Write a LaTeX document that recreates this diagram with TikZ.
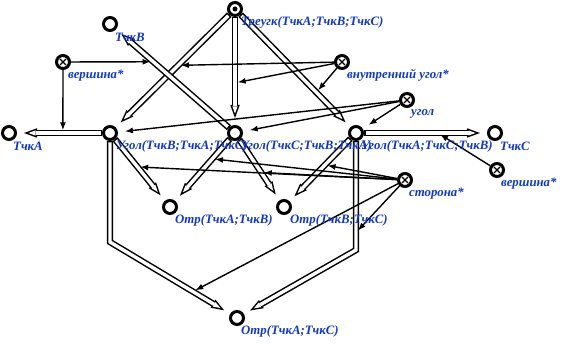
\documentclass[tikz,border=0pt]{standalone}
\usepackage{fontspec}
\setmainfont{Liberation Serif}
\usetikzlibrary{arrows.meta, positioning}
\definecolor{lblblue}{RGB}{16,56,196}

\begin{document}
\begin{tikzpicture}[x=1pt, y=-1pt,
        vtx/.style={circle, draw=black, line width=3pt, minimum size=13pt, inner sep=0pt},
        vtxd/.style={vtx, path picture={\fill (path picture bounding box.center) circle (2.5pt);}},
        vtxx/.style={vtx, path picture={
            \draw[line width=1.4pt]
              ([shift={(-3pt,-3pt)}]path picture bounding box.center) -- ([shift={(3pt,3pt)}]path picture bounding box.center)
              ([shift={(-3pt,3pt)}]path picture bounding box.center) -- ([shift={(3pt,-3pt)}]path picture bounding box.center);}},
        lbl/.style={anchor=west, inner sep=0pt, text=lblblue, font=\bfseries\itshape\fontsize{12.8}{14}\selectfont},
        dbl/.style={draw=black, line width=6.4pt, shorten >=7pt,
                    -{Triangle[length=13pt, width=9.5pt, line width=0pt]},
                    postaction={draw=white, line width=3.4pt, shorten <=1.5pt, shorten >=11.4pt,
                                -{Triangle[length=7.1pt, width=5.2pt, line width=0pt]}}},
        arr/.style={draw=black, line width=1.4pt, shorten >=2.7pt, -{Latex[length=8pt, width=6pt]}}
    ]
    \useasboundingbox (0,0) rectangle (563,344);

    % points
    \node[vtxd] (tri) at (235,9) {};
    \node[vtx] (B) at (110,24) {};
    \node[vtxx] (vA) at (63,62) {};
    \node[vtxx] (vin) at (342,62) {};
    \node[vtxx] (ugol) at (407,100) {};
    \node[vtx] (A) at (9,133) {};
    \node[vtx] (angBAC) at (110,133) {};
    \node[vtx] (angCBA) at (235,133) {};
    \node[vtx] (angACB) at (356,133) {};
    \node[vtx] (C) at (495,133) {};
    \node[vtxx] (vC) at (497,170) {};
    \node[vtxx] (side) at (405,180) {};
    \node[vtx] (sAB) at (170,207) {};
    \node[vtx] (sBC) at (284,207) {};
    \node[vtx] (sAC) at (237,318) {};
    \coordinate (bendL) at (110,242);
    \coordinate (bendR) at (356,250);

    % double links
    \draw[dbl] (tri) -- coordinate[pos=0.45] (tBAC) (angBAC);
    \draw[dbl] (tri) -- coordinate[pos=0.61] (tCBA) (angCBA);
    \draw[dbl] (tri) -- coordinate[pos=0.69] (tACB) (angACB);
    \draw[dbl] (angBAC) -- coordinate[pos=0.46] (vxA) (A);
    \draw[dbl] (angCBA) -- coordinate[pos=0.67] (vxB) (B);
    \draw[dbl] (angACB) -- coordinate[pos=0.6] (vxC) (C);
    \draw[dbl] (angBAC) -- coordinate[pos=0.45] (sdBA) (sAB);
    \draw[dbl] (angCBA) -- coordinate[pos=0.32] (sdBB) (sAB);
    \draw[dbl] (angCBA) -- coordinate[pos=0.54] (sdCB) (sBC);
    \draw[dbl] (angACB) -- coordinate[pos=0.42] (sdCC) (sBC);
    \draw[dbl] (angBAC) -- (bendL) -- coordinate[pos=0.69] (sdBL) (sAC);
    \draw[dbl] (angACB) -- coordinate[pos=0.84] (sdCR) (bendR) -- (sAC);

    % role arrows
    \draw[arr] (vA) -- (vxA);
    \draw[arr] (vA) -- (vxB);
    \draw[arr] (vC) -- (vxC);
    \draw[arr] (vin) -- (tBAC);
    \draw[arr] (vin) -- (tCBA);
    \draw[arr] (vin) -- (tACB);
    \draw[arr, shorten >=7pt] (ugol) -- (angBAC);
    \draw[arr, shorten >=7pt] (ugol) -- (angCBA);
    \draw[arr, shorten >=7pt] (ugol) -- (angACB);
    \foreach \t in {sdBA, sdBB, sdCB, sdCC, sdBL, sdCR}
        \draw[arr] (side) -- (\t);

    % labels
    \node[lbl] (triL) at ([shift={(6pt,-13.5pt)}]tri.center) {Треугк(ТчкА;ТчкВ;ТчкС)};
    \node[lbl] (BL) at ([shift={(5pt,-13.5pt)}]B.center) {ТчкВ};
    \node[lbl] (vAL) at ([shift={(5pt,-13.5pt)}]vA.center) {вершина*};
    \node[lbl] (vinL) at ([shift={(5pt,-13.5pt)}]vin.center) {внутренний угол*};
    \node[lbl] (ugolL) at ([shift={(4pt,-13.5pt)}]ugol.center) {угол};
    \node[lbl] (AL) at ([shift={(4pt,-13.5pt)}]A.center) {ТчкА};
    \node[lbl] (angBACL) at ([shift={(6pt,-13.5pt)}]angBAC.center) {Угол(ТчкВ;ТчкА;ТчкС)};
    \node[lbl] (angCBAL) at ([shift={(5pt,-13.5pt)}]angCBA.center) {Угол(ТчкС;ТчкВ;ТчкА)};
    \node[lbl] (angACBL) at ([shift={(5pt,-13.5pt)}]angACB.center) {Угол(ТчкА;ТчкС;ТчкВ)};
    \node[lbl] (CL) at ([shift={(5pt,-13.5pt)}]C.center) {ТчкС};
    \node[lbl] (vCL) at ([shift={(4pt,-13.5pt)}]vC.center) {вершина*};
    \node[lbl] (sideL) at ([shift={(4pt,-13.5pt)}]side.center) {сторона*};
    \node[lbl] (sABL) at ([shift={(5pt,-13.5pt)}]sAB.center) {Отр(ТчкА;ТчкВ)};
    \node[lbl] (sBCL) at ([shift={(6pt,-13.5pt)}]sBC.center) {Отр(ТчкВ;ТчкС)};
    \node[lbl] (sACL) at ([shift={(4pt,-13.5pt)}]sAC.center) {Отр(ТчкА;ТчкС)};
\end{tikzpicture}
\end{document}
